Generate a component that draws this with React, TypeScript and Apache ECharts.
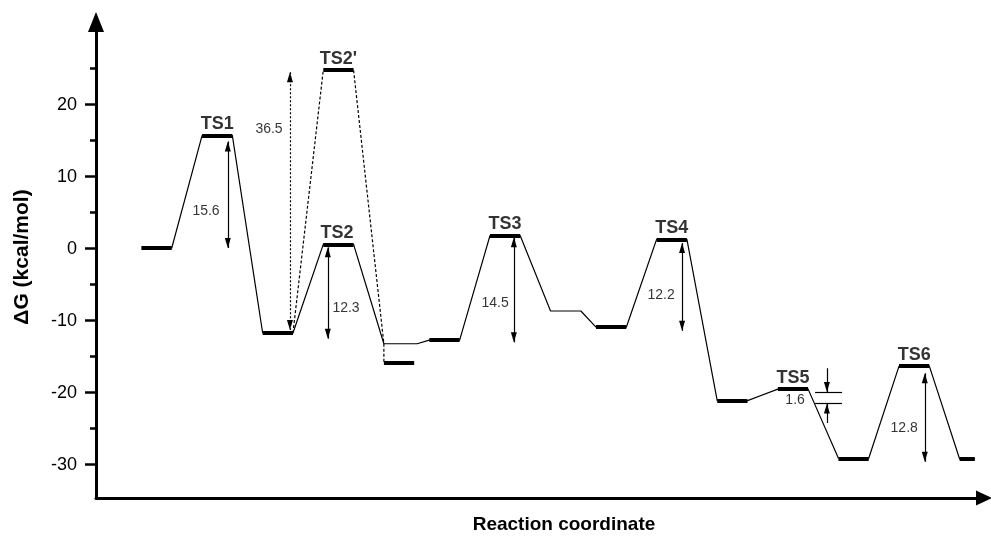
import React, { useEffect, useRef } from "react";
import * as echarts from "echarts";

const FONT = "'Liberation Sans', Arial, Helvetica, sans-serif";

const xRange = [-1.5, 27.54];
const yRange = [-34.72, 30];
const yMajorTicks = [-30, -20, -10, 0, 10, 20];
const yMinorTicks = [-25, -15, -5, 5, 15, 25];

// main reaction path (solid)
const pathX = [0, 1, 2, 3, 4, 5, 6, 7, 8, 9.1, 9.5, 10.5, 11.5, 12.5, 13.5, 14.5, 15, 16, 17, 18, 19, 20, 21, 22, 23, 24, 25, 26, 27, 27.5];
const pathG = [0, 0, 15.6, 15.6, -11.8, -11.8, 0.5, 0.5, -13.3, -13.3, -12.8, -12.8, 1.7, 1.7, -8.75, -8.75, -11.0, -11.0, 1.2, 1.2, -21.2, -21.2, -19.6, -19.6, -29.2, -29.2, -16.4, -16.4, -29.3, -29.3];

// alternative path via TS2' (dashed)
const altPathX = [5, 6, 7, 8, 8];
const altPathG = [-11.8, 24.7, 24.7, -13.3, -16.0];

// thick energy levels
const levelStart = [0, 2, 4, 6, 6, 8, 9.5, 11.5, 15, 17, 19, 21, 23, 25, 27];
const levelEnd = [1, 3, 5, 7, 7, 9, 10.5, 12.5, 16, 18, 20, 22, 24, 26, 27.5];
const levelG = [0, 15.6, -11.8, 0.5, 24.7, -16.0, -12.8, 1.7, -11.0, 1.2, -21.2, -19.6, -29.2, -16.4, -29.3];

// transition state names
const tsNames = ["TS1", "TS2", "TS2'", "TS3", "TS4", "TS5", "TS6"];
const tsX = [2.5, 6.45, 6.5, 12, 17.5, 21.5, 25.5];
const tsG = [15.6, 0.5, 24.7, 1.7, 1.2, -19.6, -16.4];

// barrier values
const barrierTexts = ["15.6", "36.5", "12.3", "14.5", "12.2", "12.8", "1.6"];
const barrierTextX = [2.13, 4.21, 6.75, 11.67, 17.15, 25.17, 21.57];
const barrierTextG = [5.3, 16.7, -8.2, -7.5, -6.4, -24.9, -21.0];

// double-headed barrier arrows
const arrowX = [2.85, 4.9, 6.15, 12.29, 17.84, 25.85];
const arrowTop = [14.8, 24.4, 0.1, 1.5, 0.7, -17.4];
const arrowBottom = [0, -11.4, -12.6, -13.1, -11.5, -29.7];
const arrowDotted = [false, true, false, false, false, false];

// TS5 small barrier marker
const ts5MarkX = [22.23, 23.12];
const ts5MarkG = [-20.0, -21.6];
const ts5ArrowX = 22.62;
const ts5ArrowFrom = [-16.7, -24.3];

export default function App() {
  const ref = useRef<HTMLDivElement>(null);

  useEffect(() => {
    const chart = echarts.init(ref.current!, null, { renderer: "svg" });

    const black = "#000";
    const head = { symbol: "triangle", symbolSize: [6, 10], symbolOffset: [0, 5] };

    const levelLines = levelStart.map((s, i) => [
      { coord: [s, levelG[i]] },
      { coord: [levelEnd[i], levelG[i]] },
    ]);

    const arrowLines: any[] = arrowX.map((x, i) => {
      const ls = { type: arrowDotted[i] ? [2, 2] : "solid", width: 1.2, color: black };
      return [
        { coord: [x, arrowTop[i]], ...head, lineStyle: ls },
        { coord: [x, arrowBottom[i]], ...head, lineStyle: ls },
      ];
    });
    const thin = { type: "solid", width: 1.2, color: black };
    ts5MarkG.forEach((g) => {
      arrowLines.push([
        { coord: [ts5MarkX[0], g], symbol: "none", lineStyle: thin },
        { coord: [ts5MarkX[1], g], symbol: "none", lineStyle: thin },
      ]);
    });
    ts5ArrowFrom.forEach((g, i) => {
      arrowLines.push([
        { coord: [ts5ArrowX, g], symbol: "none", lineStyle: thin },
        { coord: [ts5ArrowX, ts5MarkG[i]], ...head, lineStyle: thin },
      ]);
    });

    const option: any = {
      animation: false,
      grid: { left: 96, right: 15, top: 32, bottom: 38, containLabel: false, outerBoundsMode: "none" },
      xAxis: {
        type: "value",
        min: xRange[0],
        max: xRange[1],
        axisLine: {
          show: true,
          onZero: false,
          lineStyle: { color: black, width: 3 },
          symbol: ["none", "triangle"],
          symbolSize: [15, 16],
          symbolOffset: [0, 8],
        },
        axisTick: { show: false },
        axisLabel: { show: false },
        splitLine: { show: false },
      },
      yAxis: [
        {
          type: "value",
          position: "left",
          min: yRange[0],
          max: yRange[1],
          axisLine: {
            show: true,
            onZero: false,
            lineStyle: { color: black, width: 3 },
            symbol: ["none", "triangle"],
            symbolSize: [16, 20],
            symbolOffset: [0, 10],
          },
          axisTick: { show: true, customValues: yMajorTicks, length: 11, lineStyle: { color: black, width: 2.5 } },
          axisLabel: { show: true, customValues: yMajorTicks, color: black, fontSize: 18, fontFamily: FONT, margin: 19 },
          splitLine: { show: false },
        },
        {
          type: "value",
          position: "left",
          min: yRange[0],
          max: yRange[1],
          axisLine: { show: false, onZero: false },
          axisTick: { show: true, customValues: yMinorTicks, length: 6, lineStyle: { color: black, width: 2.5 } },
          axisLabel: { show: false },
          splitLine: { show: false },
        },
      ],
      graphic: [
        {
          type: "text",
          x: 20,
          y: 257,
          rotation: Math.PI / 2,
          style: {
            text: "ΔG (kcal/mol)",
            fill: black,
            font: `bold 21px ${FONT}`,
            align: "center",
            verticalAlign: "middle",
          },
        },
        {
          type: "text",
          x: 564,
          y: 523,
          style: {
            text: "Reaction coordinate",
            fill: black,
            font: `bold 19px ${FONT}`,
            align: "center",
            verticalAlign: "middle",
          },
        },
      ],
      series: [
        {
          type: "line",
          silent: true,
          data: pathX.map((x, i) => [x, pathG[i]]),
          showSymbol: false,
          symbol: "none",
          lineStyle: { color: black, width: 1.2 },
          markLine: {
            silent: true,
            symbol: "none",
            label: { show: false },
            lineStyle: { color: black, width: 4, type: "solid" },
            data: levelLines,
          },
        },
        {
          type: "line",
          silent: true,
          data: altPathX.map((x, i) => [x, altPathG[i]]),
          showSymbol: false,
          symbol: "none",
          lineStyle: { color: black, width: 1.2, type: [3, 2] },
          markLine: {
            silent: true,
            label: { show: false },
            lineStyle: { color: black, width: 1.2, type: "solid" },
            data: arrowLines,
          },
        },
        {
          type: "scatter",
          silent: true,
          symbol: "circle",
          symbolSize: 1,
          itemStyle: { color: "rgba(0,0,0,0)" },
          data: tsNames.map((n, i) => ({ name: n, value: [tsX[i], tsG[i]] })),
          label: {
            show: true,
            position: "top",
            distance: 3,
            formatter: "{b}",
            color: black,
            fontSize: 18,
            fontWeight: "bold",
            fontFamily: FONT,
          },
        },
        {
          type: "scatter",
          silent: true,
          symbol: "circle",
          symbolSize: 1,
          itemStyle: { color: "rgba(0,0,0,0)" },
          data: barrierTexts.map((t, i) => ({ name: t, value: [barrierTextX[i], barrierTextG[i]] })),
          label: {
            show: true,
            position: "inside",
            formatter: "{b}",
            color: black,
            fontSize: 14,
            fontFamily: FONT,
          },
        },
      ],
    };

    chart.setOption(option);
    return () => chart.dispose();
  }, []);

  return <div ref={ref} style={{ position: "fixed", left: 0, top: 0, width: 991, height: 536 }} />;
}
